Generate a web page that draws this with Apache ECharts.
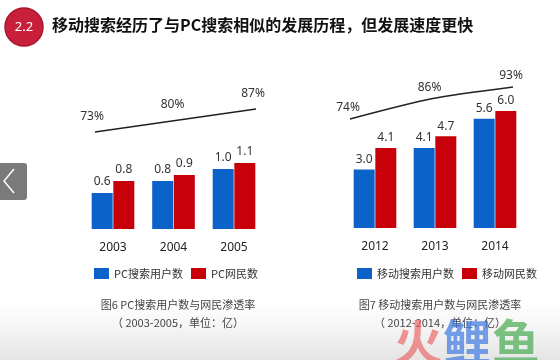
<!DOCTYPE html>
<html>
<head>
<meta charset="utf-8">
<script src="https://cdn.jsdelivr.net/npm/echarts@6/dist/echarts.min.js"></script>
<style>
html,body{margin:0;padding:0;background:#fff;}
#c{width:560px;height:360px;}
</style>
</head>
<body>
<div id="c"></div>
<script>
const pcYears = ['2003', '2004', '2005'];
const pcSearchUsers = [0.6, 0.8, 1.0];
const pcNetUsers = [0.8, 0.9, 1.1];
const pcPenetration = [73, 80, 87];

const mYears = ['2012', '2013', '2014'];
const mSearchUsers = [3.0, 4.1, 5.6];
const mNetUsers = [4.1, 4.7, 6.0];
const mPenetration = [74, 86, 93];

const seriesNames = ['PC搜索用户数', 'PC网民数', '移动搜索用户数', '移动网民数'];
const titleText = '移动搜索经历了与PC搜索相似的发展历程，但发展速度更快';
const caption6 = ['图6 PC搜索用户数与网民渗透率', '（ 2003-2005，单位：亿）'];
const caption7 = ['图7 移动搜索用户数与网民渗透率', '（ 2012-2014，单位：亿）'];

const BLUE = '#0b62c9';
const RED = '#c8000a';
const NUMFONT = '"Noto Sans", "Noto Sans CJK SC", sans-serif';
const CJKFONT = '"Noto Sans CJK SC", sans-serif';

const chart = echarts.init(document.getElementById('c'), null, {renderer: 'canvas'});

function catAxis(idx, data, boundaryGap, show) {
  return {
    type: 'category', gridIndex: idx, data: data, boundaryGap: boundaryGap,
    show: show,
    axisLine: {show: false}, axisTick: {show: false},
    axisLabel: {show: show, margin: 13, fontSize: 12, color: '#222', fontFamily: NUMFONT}
  };
}
function valAxis(idx, min, max) {
  return {type: 'value', gridIndex: idx, min: min, max: max, show: false, splitLine: {show: false}};
}
const barLabel = {show: true, position: 'top', distance: 5, fontSize: 12, color: '#333', fontFamily: NUMFONT,
  formatter: p => Number(p.value).toFixed(1)};

const option = {
  backgroundColor: '#ffffff',
  animation: false,
  grid: [
    {left: 82.75, top: 109, width: 181.5, height: 120},
    {left: 95, top: 87.7, width: 161, height: 65.7},
    {left: 345, top: 72, width: 180, height: 156},
    {left: 350, top: 75.2, width: 163, height: 67.4}
  ],
  xAxis: [
    catAxis(0, pcYears, true, true),
    catAxis(1, pcYears, false, false),
    catAxis(2, mYears, true, true),
    catAxis(3, mYears, false, false)
  ],
  yAxis: [
    valAxis(0, 0, 2),
    valAxis(1, 60, 100),
    valAxis(2, 0, 8),
    valAxis(3, 60, 100)
  ],
  legend: [
    {data: [seriesNames[0], seriesNames[1]], left: 89, top: 263, icon: 'rect', itemWidth: 15, itemHeight: 11,
      itemGap: 8, textStyle: {fontSize: 11, color: '#333', fontFamily: CJKFONT}, selectedMode: false},
    {data: [seriesNames[2], seriesNames[3]], left: 352, top: 263, icon: 'rect', itemWidth: 15, itemHeight: 11,
      itemGap: 8, textStyle: {fontSize: 11, color: '#333', fontFamily: CJKFONT}, selectedMode: false}
  ],
  series: [
    {name: seriesNames[0], type: 'bar', xAxisIndex: 0, yAxisIndex: 0, data: pcSearchUsers,
      barWidth: 21, barGap: '3%', itemStyle: {color: BLUE}, label: barLabel},
    {name: seriesNames[1], type: 'bar', xAxisIndex: 0, yAxisIndex: 0, data: pcNetUsers,
      barWidth: 21, barGap: '3%', itemStyle: {color: RED}, label: barLabel},
    {name: 'PC渗透率', type: 'line', xAxisIndex: 1, yAxisIndex: 1, data: pcPenetration,
      symbol: 'circle', symbolSize: 1, showSymbol: true, itemStyle: {color: 'rgba(0,0,0,0)'},
      lineStyle: {color: '#222', width: 1.6},
      label: {show: true, position: 'top', distance: 9, offset: [-3, 0], fontSize: 12, color: '#333', fontFamily: NUMFONT,
        formatter: p => p.value + '%'}},
    {name: seriesNames[2], type: 'bar', xAxisIndex: 2, yAxisIndex: 2, data: mSearchUsers,
      barWidth: 21, barGap: '3%', itemStyle: {color: BLUE}, label: Object.assign({}, barLabel, {distance: 4})},
    {name: seriesNames[3], type: 'bar', xAxisIndex: 2, yAxisIndex: 2, data: mNetUsers,
      barWidth: 21, barGap: '3%', itemStyle: {color: RED}, label: Object.assign({}, barLabel, {distance: 4})},
    {name: '移动渗透率', type: 'line', xAxisIndex: 3, yAxisIndex: 3, data: mPenetration,
      symbol: 'circle', symbolSize: 1, showSymbol: true, itemStyle: {color: 'rgba(0,0,0,0)'},
      smooth: 0.25, lineStyle: {color: '#222', width: 1.6},
      label: {show: true, position: 'top', distance: 5, offset: [-2, 0], fontSize: 12, color: '#333', fontFamily: NUMFONT,
        formatter: p => p.value + '%'}}
  ],
  graphic: [
    {type: 'rect', left: 0, top: 300, z: -10, silent: true,
      shape: {width: 560, height: 60},
      style: {fill: new echarts.graphic.LinearGradient(0, 0, 0, 1, [
        {offset: 0, color: 'rgba(235,235,235,0)'},
        {offset: 1, color: 'rgba(225,225,225,0.9)'}
      ])}},
    {type: 'circle', z: 10, shape: {cx: 24, cy: 27, r: 19},
      style: {fill: '#c8203a', stroke: '#a8152c', lineWidth: 1.5}},
    {type: 'text', z: 11, style: {x: 24, y: 27, text: '2.2', fill: '#fff', fontSize: 13,
      fontFamily: NUMFONT, textAlign: 'center', textVerticalAlign: 'middle'}},
    {type: 'text', z: 11, style: {x: 52, y: 25, text: titleText, fill: '#111', fontSize: 16, fontWeight: 'bold',
      fontFamily: CJKFONT, textVerticalAlign: 'middle'}},
    {type: 'text', z: 11, style: {x: 178, y: 305, text: caption6[0], fill: '#444', fontSize: 11,
      fontFamily: CJKFONT, textAlign: 'center', textVerticalAlign: 'middle'}},
    {type: 'text', z: 11, style: {x: 178, y: 323, text: caption6[1], fill: '#444', fontSize: 11,
      fontFamily: CJKFONT, textAlign: 'center', textVerticalAlign: 'middle'}},
    {type: 'text', z: 11, style: {x: 440, y: 305, text: caption7[0], fill: '#444', fontSize: 11,
      fontFamily: CJKFONT, textAlign: 'center', textVerticalAlign: 'middle'}},
    {type: 'text', z: 11, style: {x: 440, y: 323, text: caption7[1], fill: '#444', fontSize: 11,
      fontFamily: CJKFONT, textAlign: 'center', textVerticalAlign: 'middle'}},
    {type: 'rect', z: 10, shape: {x: -4, y: 163, width: 31, height: 37, r: 3}, style: {fill: '#7a7a7a'}},
    {type: 'polyline', z: 11, shape: {points: [[14, 169], [4, 181], [14, 193]]},
      style: {stroke: '#fff', lineWidth: 1.5, fill: null}},
    {type: 'text', z: 12, style: {x: 394, y: 318, text: '火', fill: 'rgba(235,95,95,0.65)', fontSize: 48, fontWeight: 'bold',
      fontFamily: CJKFONT}},
    {type: 'text', z: 12, style: {x: 443, y: 318, text: '鲤', fill: 'rgba(60,120,225,0.7)', fontSize: 48, fontWeight: 'bold',
      fontFamily: CJKFONT}},
    {type: 'text', z: 12, style: {x: 492, y: 318, text: '鱼', fill: 'rgba(70,170,80,0.7)', fontSize: 48, fontWeight: 'bold',
      fontFamily: CJKFONT}}
  ]
};
chart.setOption(option);
</script>
</body>
</html>
